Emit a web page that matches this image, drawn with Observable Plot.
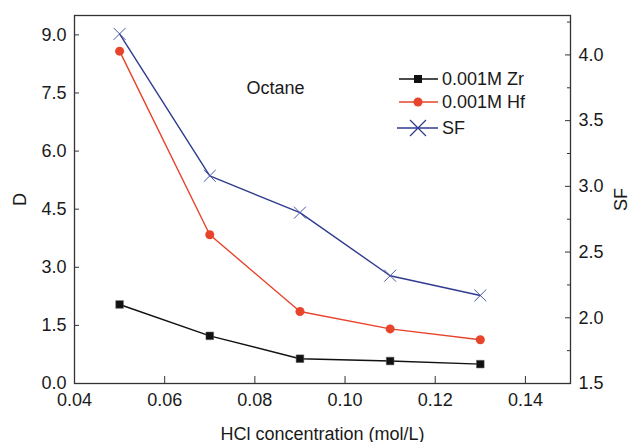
<!DOCTYPE html>
<html><head><meta charset="utf-8">
<script src="https://cdn.jsdelivr.net/npm/d3@7"></script>
<script src="https://cdn.jsdelivr.net/npm/@observablehq/plot@0.6"></script>
<style>body{margin:0;background:#fff} svg{display:block}</style>
</head><body><div id="chart"></div>
<script>
const hcl = [0.05, 0.07, 0.09, 0.11, 0.13];
const dZr = [2.04, 1.23, 0.64, 0.58, 0.50];
const dHf = [8.58, 3.84, 1.86, 1.41, 1.13];
const sf  = [4.16, 3.08, 2.80, 2.32, 2.17];
const xTicks = [0.04, 0.06, 0.08, 0.10, 0.12, 0.14];
const dTicks = [0, 1.5, 3.0, 4.5, 6.0, 7.5, 9.0];
const sfTicks = [1.5, 2.0, 2.5, 3.0, 3.5, 4.0];
const sfMinor = [1.75, 2.25, 2.75, 3.25, 3.75, 4.25];
const seriesNames = ["0.001M Zr", "0.001M Hf", "SF"];
const noteText = "Octane";
const xLabel = "HCl concentration (mol/L)";
const yLabel = "D";
const y2Label = "SF";
const xDomain = [0.04, 0.15], dDomain = [0, 9.5], sfDomain = [1.5, 4.3];

const toD = d3.scaleLinear().domain(sfDomain).range(dDomain);
const toSF = toD.invert;

const zr = hcl.map((x, i) => ({x, y: dZr[i]}));
const hf = hcl.map((x, i) => ({x, y: dHf[i]}));
const sfd = hcl.map((x, i) => ({x, y: toD(sf[i])}));

const cBlack = "#111111", cRed = "#e8432b", cBlue = "#2f3b8f", cText = "#1a1a1a";
const font = "'Liberation Sans', Arial, sans-serif";
const fs = 18;

const plot = Plot.plot({
  width: 632, height: 442,
  marginLeft: 74, marginRight: 62, marginTop: 15, marginBottom: 59,
  style: {fontFamily: font, fontSize: fs + "px", color: cText, background: "#fff"},
  x: {domain: xDomain},
  y: {domain: dDomain},
  marks: [
    Plot.frame({stroke: "#333", strokeWidth: 1.3}),
    Plot.axisX(xTicks, {tickSize: -7, tickPadding: 17, tickFormat: d3.format(".2f"), stroke: "#333",
      label: xLabel, labelAnchor: "center", labelOffset: 56, labelArrow: "none", fontSize: fs}),
    Plot.axisY(dTicks, {anchor: "left", tickSize: -5, tickPadding: 13, tickFormat: d3.format(".1f"), stroke: "#333",
      label: yLabel, labelAnchor: "center", labelOffset: 61, labelArrow: "none", fontSize: fs}),
    Plot.axisY(sfTicks.map(toD), {anchor: "right", tickSize: -6, tickPadding: 14, tickFormat: d => d3.format(".1f")(toSF(d)), stroke: "#333",
      label: y2Label, labelAnchor: "center", labelOffset: 56, labelArrow: "none", fontSize: fs}),
    Plot.axisY(sfMinor.map(toD), {anchor: "right", tickSize: -4, tickFormat: () => "", stroke: "#333", label: null}),
    Plot.line(sfd, {x: "x", y: "y", stroke: cBlue, strokeWidth: 1.4}),
    Plot.dot(sfd, {x: "x", y: "y", symbol: "times", stroke: "#4a58a8", r: 5.5, strokeWidth: 1}),
    Plot.line(hf, {x: "x", y: "y", stroke: cRed, strokeWidth: 1.4}),
    Plot.dot(hf, {x: "x", y: "y", symbol: "circle", fill: cRed, r: 4.5}),
    Plot.line(zr, {x: "x", y: "y", stroke: cBlack, strokeWidth: 1.4}),
    Plot.dot(zr, {x: "x", y: "y", symbol: "square", fill: cBlack, stroke: "#555", strokeWidth: 0.5, r: 4.3}),
    Plot.text([noteText], {text: d => d, frameAnchor: "top-left", dx: 201, dy: 66, textAnchor: "middle", fontSize: fs, fill: cText})
  ]
});
document.getElementById("chart").append(plot);

// legend
const svg = d3.select(plot);
const legend = svg.append("g").attr("font-family", font).attr("font-size", fs).attr("fill", cText).attr("text-anchor", "start");
const rows = [
  {name: seriesNames[0], color: cBlack, sym: "square", y: 79},
  {name: seriesNames[1], color: cRed, sym: "circle", y: 102},
  {name: seriesNames[2], color: cBlue, sym: "times", y: 128}
];
rows.forEach(r => {
  const x0 = r.sym === "times" ? 397 : 399;
  legend.append("line").attr("x1", x0).attr("x2", 438).attr("y1", r.y).attr("y2", r.y).attr("stroke", r.color).attr("stroke-width", 1.4);
  const cx = 418;
  if (r.sym === "square") legend.append("rect").attr("x", cx - 4).attr("y", r.y - 4).attr("width", 8).attr("height", 8).attr("fill", r.color);
  else if (r.sym === "circle") legend.append("circle").attr("cx", cx).attr("cy", r.y).attr("r", 4.5).attr("fill", r.color);
  else {
    legend.append("path").attr("d", `M${cx-8},${r.y-8}L${cx+8},${r.y+8}M${cx-8},${r.y+8}L${cx+8},${r.y-8}`).attr("stroke", r.color).attr("stroke-width", 1.2);
  }
  legend.append("text").attr("x", 442).attr("y", r.y).attr("dy", "0.35em").text(r.name);
});
</script>
</body></html>
